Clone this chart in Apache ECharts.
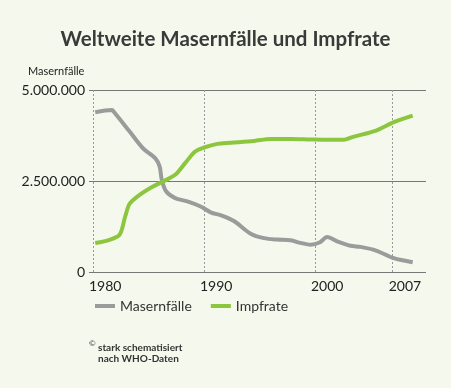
<!DOCTYPE html>
<html><head><meta charset="utf-8">
<script src="https://cdn.jsdelivr.net/npm/echarts@6/dist/echarts.min.js"></script>
<style>html,body{margin:0;padding:0;background:#f5f8ec;}#c{width:451px;height:388px;}</style>
</head><body><div id="c"></div>
<script>
// Data (schematic)
const casesYears = [1980.2,1981.7,1981.8,1983.3,1984.5,1985.6,1986.0,1986.2,1986.6,1987.4,1988.5,1989.7,1990.6,1991.6,1992.7,1994.2,1995.4,1996.6,1997.8,1998.7,1999.6,2000.4,2001.1,2002.0,2003.2,2004.1,2005.5,2007.1,2008.8];
const casesValues = [4390000,4450000,4430000,3860000,3400000,3130000,2900000,2530000,2210000,2030000,1940000,1800000,1640000,1550000,1400000,1050000,930000,890000,870000,800000,750000,810000,960000,840000,720000,690000,590000,380000,270000];
const rateYears = [1980.2,1981.5,1982.4,1982.9,1983.3,1984.2,1985.4,1986.3,1987.4,1988.3,1989.2,1990.0,1991.2,1992.4,1994.5,1996.0,1997.8,1999.6,2001.1,2002.5,2003.5,2005.5,2007.1,2008.8];
const rateValues = [15.9,17.7,20.5,30.5,37.5,42.4,47.0,49.7,53.4,59.8,66.2,68.4,70.4,71.0,72.0,73.1,73.1,72.8,72.6,72.6,74.4,77.7,82.3,85.9];
const xTicks = [1980,1990,2000,2007];
const seriesNames = ['Masernfälle','Impfrate'];
const titleText = 'Weltweite Masernfälle und Impfrate';
const footnote = ['stark schematisiert','nach WHO-Daten'];

const font = 'Lato';
const chart = echarts.init(document.getElementById('c'), null, {renderer:'canvas'});
const fmt = v => String(Math.round(v)).replace(/\B(?=(\d{3})+(?!\d))/g, '.');
chart.setOption({
  backgroundColor:'#f5f8ec',
  animation:false,
  textStyle:{fontFamily:font},
  title:{text:titleText,left:'center',top:24,textStyle:{fontFamily:font,fontSize:20.5,fontWeight:'bold',color:'#3a3a3a'}},
  graphic:[
    {type:'text',left:89,top:339,style:{text:'©',fontSize:8,fontFamily:font,fill:'#333'}},
    {type:'text',left:98,top:342,style:{text:footnote.join('\n'),fontSize:10,lineHeight:11,fontFamily:font,fontWeight:'bold',fill:'#333'}}
  ],
  legend:{left:90,top:294,itemWidth:20,itemHeight:4,itemGap:19,icon:'rect',
    textStyle:{fontSize:14,color:'#333',fontFamily:font},data:seriesNames},
  grid:{left:93,right:25,top:90,bottom:116},
  xAxis:{type:'value',min:1980,max:2010,
    axisLine:{show:false},
    axisTick:{show:false,customValues:xTicks},
    axisLabel:{customValues:xTicks,align:'left',margin:7,padding:[0,0,0,-4],fontSize:14,color:'#222',fontFamily:font,formatter:v=>String(v)},
    splitLine:{show:true,customValues:xTicks,lineStyle:{type:[2,2],color:'#999',width:1}}},
  yAxis:[{type:'value',min:0,max:5000000,interval:2500000,
    name:'Masernfälle',nameLocation:'end',nameGap:13,
    nameTextStyle:{align:'left',padding:[0,0,0,-65],fontSize:11,color:'#222',fontFamily:font},
    axisLine:{show:false},
    axisTick:{show:true,length:4,lineStyle:{color:'#777'}},
    axisLabel:{fontSize:14,color:'#222',margin:8,fontFamily:font,formatter:fmt},
    splitLine:{lineStyle:{color:'#777',width:1}}},
   {type:'value',min:0,max:100,show:false,splitLine:{show:false}}],
  series:[
    {name:seriesNames[0],type:'line',yAxisIndex:0,smooth:0.3,showSymbol:false,
     data:casesYears.map((y,i)=>[y,casesValues[i]]),
     itemStyle:{color:'#9b9b9b'},lineStyle:{color:'#9b9b9b',width:4}},
    {name:seriesNames[1],type:'line',yAxisIndex:1,smooth:0.3,showSymbol:false,
     data:rateYears.map((y,i)=>[y,rateValues[i]]),
     itemStyle:{color:'#8cc63f'},lineStyle:{color:'#8cc63f',width:4}}
  ]
});
</script></body></html>
